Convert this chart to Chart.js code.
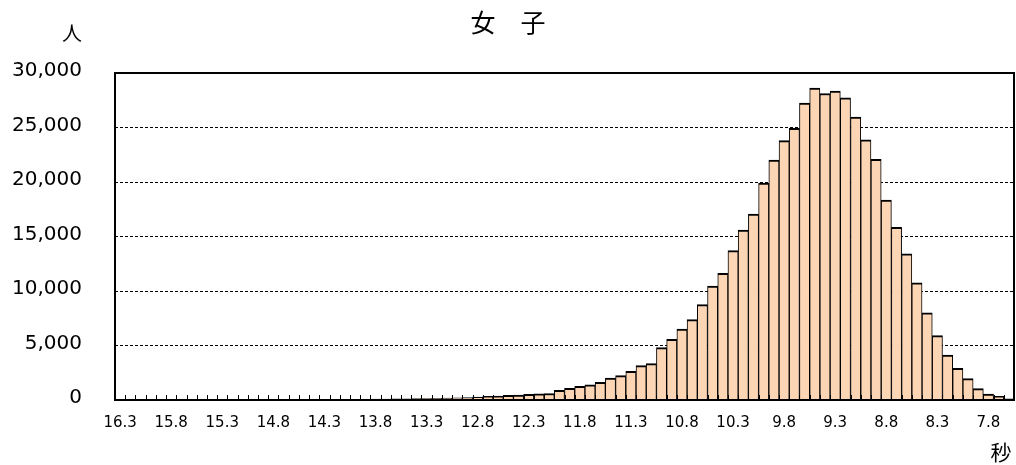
<!DOCTYPE html>
<html lang="ja">
<head>
<meta charset="utf-8">
<title>女子</title>
<script src="https://cdn.jsdelivr.net/npm/chart.js@4/dist/chart.umd.min.js"></script>
<style>
  body { margin: 0; background: #fff; }
  #wrap { width: 1016px; height: 465px; }
</style>
</head>
<body>
<div id="wrap"><canvas id="grafico" width="1016" height="465"></canvas></div>
<script>
// 記録（秒）ごとの人数
const segundos = [
  "16.3","16.2","16.1","16.0","15.9","15.8","15.7","15.6","15.5","15.4",
  "15.3","15.2","15.1","15.0","14.9","14.8","14.7","14.6","14.5","14.4",
  "14.3","14.2","14.1","14.0","13.9","13.8","13.7","13.6","13.5","13.4",
  "13.3","13.2","13.1","13.0","12.9","12.8","12.7","12.6","12.5","12.4",
  "12.3","12.2","12.1","12.0","11.9","11.8","11.7","11.6","11.5","11.4",
  "11.3","11.2","11.1","11.0","10.9","10.8","10.7","10.6","10.5","10.4",
  "10.3","10.2","10.1","10.0","9.9","9.8","9.7","9.6","9.5","9.4",
  "9.3","9.2","9.1","9.0","8.9","8.8","8.7","8.6","8.5","8.4",
  "8.3","8.2","8.1","8.0","7.9","7.8","7.7","7.6"
];

const personas = [
  10, 5, 8, 10, 8, 12, 10, 14, 15, 16,
  18, 20, 22, 25, 24, 28, 30, 33, 36, 40,
  45, 48, 55, 60, 68, 75, 90, 100, 115, 125,
  140, 160, 175, 210, 230, 260, 330, 360, 430, 460,
  530, 560, 600, 880, 1080, 1250, 1400, 1620, 2010, 2230,
  2630, 3150, 3330, 4800, 5560, 6510, 7370, 8750, 10460, 11620,
  13700, 15590, 17060, 19900, 22020, 23800, 24930, 27230, 28610, 28120,
  28330, 27720, 25950, 23860, 22080, 18340, 15830, 13400, 10750, 7990,
  5910, 4130, 2900, 1960, 1040, 550, 330, 100
];

// ラベルは5本ごと
const pasoEtiqueta = 5;
const yMax = 30000;
const yPaso = 5000;

const titulo = "女　子";
const unidadY = "人";
const unidadX = "秒";

// 枠線・目盛り・文字
const extras = {
  id: 'extras',
  afterDatasetsDraw(chart) {
    const ctx = chart.ctx;
    const area = chart.chartArea;
    const x = chart.scales.x;
    const ancho = x.getPixelForValue(1) - x.getPixelForValue(0);

    ctx.save();
    // 内向きの目盛り
    ctx.strokeStyle = '#000';
    ctx.lineWidth = 1;
    ctx.beginPath();
    for (let i = 0; i <= segundos.length; i++) {
      const px = Math.round(x.getPixelForValue(i) - ancho / 2) + 0.5;
      ctx.moveTo(px, area.bottom);
      ctx.lineTo(px, area.bottom - 5);
    }
    ctx.stroke();

    // 外枠
    ctx.lineWidth = 2;
    ctx.strokeRect(area.left, area.top, area.right - area.left, area.bottom - area.top);

    // タイトルと単位
    ctx.fillStyle = '#000';
    ctx.textAlign = 'center';
    ctx.textBaseline = 'middle';
    ctx.font = '25px "Noto Sans CJK JP"';
    ctx.fillText(titulo, 508, 22);
    ctx.font = '20px "Noto Sans CJK JP"';
    ctx.fillText(unidadY, 72, 33);
    ctx.font = '21px "Noto Sans CJK JP"';
    ctx.fillText(unidadX, 1001, 452);
    ctx.restore();
  }
};

const ctx = document.getElementById('grafico').getContext('2d');
new Chart(ctx, {
  type: 'bar',
  data: {
    labels: segundos,
    datasets: [{
      data: personas,
      backgroundColor: '#FCD5B5',
      borderColor: '#000',
      borderWidth: { top: 2, left: 1, right: 1, bottom: 0 },
      borderSkipped: false,
      barPercentage: 1,
      categoryPercentage: 1
    }]
  },
  options: {
    responsive: false,
    animation: false,
    layout: { padding: { top: 73, right: 2, left: 0, bottom: 0 } },
    plugins: {
      legend: { display: false },
      tooltip: { enabled: false }
    },
    scales: {
      x: {
        grid: { display: false, drawTicks: false },
        border: { display: false },
        afterFit(scale) {
          scale.height = 65;
          scale.paddingLeft = 0;
          scale.paddingRight = 0;
        },
        ticks: {
          autoSkip: false,
          maxRotation: 0,
          padding: 14,
          color: '#000',
          font: { family: '"DejaVu Sans"', size: 15 },
          callback(valor, indice) {
            return indice % pasoEtiqueta === 0 ? segundos[indice] : '';
          }
        }
      },
      y: {
        min: 0,
        max: yMax,
        grid: { color: '#000', lineWidth: 1, drawTicks: false },
        border: { display: false, dash: [3, 2] },
        afterFit(scale) { scale.width = 115; },
        ticks: {
          stepSize: yPaso,
          padding: 33,
          labelOffset: -2,
          color: '#000',
          font: { family: '"DejaVu Sans"', size: 20 },
          callback(valor) { return valor.toLocaleString('en-US'); }
        }
      }
    }
  },
  plugins: [extras]
});
</script>
</body>
</html>
